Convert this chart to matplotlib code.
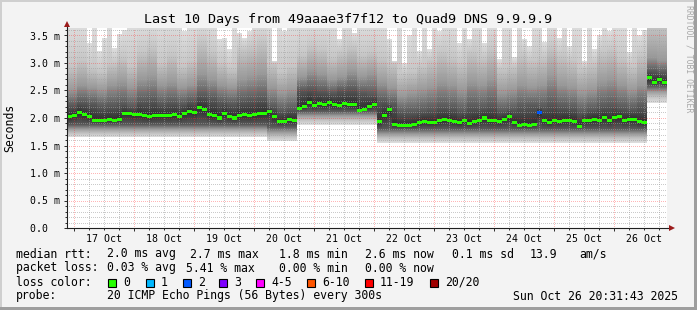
import numpy as np
import pandas as pd
import matplotlib
matplotlib.use("Agg")
import matplotlib.pyplot as plt
import matplotlib.dates as mdates
import matplotlib.ticker as mticker
from matplotlib.patches import Rectangle

plt.rcParams['font.family'] = ['DejaVu Sans Mono']

# median rtt (ms), one value every 2 hours starting Oct 16 21:12
median = [2.02, 2.05, 2.10, 2.06, 2.03, 1.96, 1.96, 1.95, 1.97, 1.96,
          1.98, 2.08, 2.08, 2.06, 2.07, 2.04, 2.02, 2.04, 2.05, 2.05,
          2.04, 2.06, 2.03, 2.08, 2.12, 2.10, 2.19, 2.16, 2.07, 2.05,
          2.00, 2.08, 2.03, 2.00, 2.05, 2.06, 2.05, 2.06, 2.08, 2.09,
          2.12, 2.02, 1.93, 1.94, 1.97, 1.96, 2.18, 2.21, 2.29, 2.22,
          2.27, 2.24, 2.28, 2.24, 2.23, 2.26, 2.24, 2.24, 2.14, 2.16,
          2.21, 2.25, 1.93, 2.05, 2.16, 1.88, 1.86, 1.86, 1.86, 1.88,
          1.92, 1.94, 1.92, 1.92, 1.95, 1.97, 1.96, 1.94, 1.91, 1.95,
          1.90, 1.93, 1.96, 2.00, 1.96, 1.96, 1.94, 1.98, 2.02, 1.92,
          1.87, 1.88, 1.86, 1.89, 2.10, 1.96, 1.92, 1.96, 1.94, 1.96,
          1.96, 1.94, 1.85, 1.95, 1.96, 1.98, 1.96, 2.01, 1.95, 2.01,
          2.02, 1.96, 1.98, 1.98, 1.93, 1.92, 2.73, 2.65, 2.70, 2.64]
# lost pings (of 20) for each median value
loss = [0] * 94 + [2] + [0] * 25

# slowest ping (ms) every 2 hours, anything above the top is clipped
smoke_max = [3.7, 3.7, 3.7, 3.7, 3.37, 3.7, 3.22, 3.46, 3.7, 3.28,
             3.53, 3.60, 3.7, 3.7, 3.7, 3.7, 3.7, 3.7, 3.7, 3.7,
             3.7, 3.7, 3.7, 3.58, 3.7, 3.7, 3.7, 3.7, 3.7, 3.7,
             3.44, 3.46, 3.25, 3.7, 3.55, 3.46, 3.58, 3.7, 3.7, 3.7,
             3.7, 3.04, 3.7, 3.58, 3.7, 3.7, 3.7, 3.7, 3.7, 3.7,
             3.7, 3.7, 3.7, 3.7, 3.44, 3.7, 3.7, 3.55, 3.7, 3.7,
             3.7, 3.7, 3.7, 3.7, 3.44, 3.04, 3.7, 3.00, 3.50, 3.7,
             3.22, 3.7, 3.25, 3.7, 3.58, 3.7, 3.7, 3.7, 3.37, 3.7,
             3.44, 3.7, 3.7, 3.37, 3.7, 3.7, 3.07, 3.7, 3.7, 3.10,
             3.7, 3.44, 3.30, 3.7, 3.7, 3.39, 3.7, 3.7, 3.45, 3.7,
             3.30, 3.7, 3.7, 3.04, 3.7, 3.25, 3.50, 3.7, 3.58, 3.7,
             3.7, 3.7, 3.20, 3.7, 3.50, 3.60, 3.7, 3.7, 3.7, 3.7]

# smoke band edges (ms), one value every 4 hours
smoke_hi1 = [2.95, 3.05, 2.90, 2.85, 3.00, 3.10, 2.95, 3.20, 3.30, 3.00,
             3.15, 2.95, 3.05, 3.40, 3.20, 3.00, 2.90, 3.25, 3.30, 3.40,
             3.00, 2.85, 2.95, 3.15, 3.30, 3.25, 3.10, 3.20, 3.30, 3.15,
             3.20, 3.10, 3.00, 2.80, 2.85, 2.95, 3.05, 3.20, 3.10, 3.00,
             3.20, 3.10, 3.25, 2.90, 2.95, 3.15, 3.05, 3.10, 3.30, 3.15,
             3.05, 2.90, 3.00, 3.20, 3.25, 3.10, 2.95, 3.15, 3.70, 3.70]
smoke_hi2 = [2.50, 2.60, 2.55, 2.50, 2.60, 2.65, 2.55, 2.70, 2.75, 2.60,
             2.65, 2.55, 2.60, 2.80, 2.70, 2.60, 2.55, 2.70, 2.75, 2.80,
             2.55, 2.45, 2.50, 2.75, 2.85, 2.80, 2.70, 2.75, 2.85, 2.75,
             2.80, 2.65, 2.55, 2.40, 2.45, 2.50, 2.55, 2.65, 2.60, 2.50,
             2.65, 2.60, 2.70, 2.45, 2.50, 2.60, 2.55, 2.60, 2.75, 2.60,
             2.55, 2.45, 2.50, 2.65, 2.70, 2.60, 2.50, 2.60, 3.10, 3.05]
smoke_hi3 = [2.22, 2.28, 2.25, 2.20, 2.22, 2.25, 2.20, 2.30, 2.32, 2.25,
             2.28, 2.25, 2.30, 2.40, 2.35, 2.28, 2.25, 2.30, 2.32, 2.35,
             2.20, 2.12, 2.15, 2.50, 2.52, 2.48, 2.45, 2.50, 2.52, 2.45,
             2.42, 2.30, 2.25, 2.10, 2.10, 2.12, 2.15, 2.20, 2.18, 2.12,
             2.20, 2.18, 2.22, 2.12, 2.15, 2.20, 2.22, 2.20, 2.25, 2.20,
             2.18, 2.10, 2.15, 2.20, 2.22, 2.18, 2.15, 2.20, 2.85, 2.82]
smoke_lo3 = [1.88] * 20 + [1.84] * 3 + [2.12] * 8 + [1.80] * 27 + [2.58] * 2
smoke_lo2 = [1.80] * 20 + [1.74] * 3 + [2.04] * 8 + [1.71] * 27 + [2.48] * 2
smoke_lo1 = [1.72] * 20 + [1.66] * 3 + [1.96] * 8 + [1.63] * 27 + [2.38] * 2
smoke_lo0 = [1.65] * 20 + [1.58] * 3 + [1.88] * 8 + [1.55] * 27 + [2.28] * 2

loss_buckets = [(0, '#26ff00', '0'), (1, '#00b8ff', '1'), (2, '#0059ff', '2'),
                (3, '#7e00ff', '3'), (5, '#ff00ff', '4-5'), (10, '#ff5500', '6-10'),
                (19, '#ff0000', '11-19'), (20, '#a00000', '20/20')]

start = pd.Timestamp('2025-10-16 21:12')
end = start + pd.Timedelta(days=10)
t_med = mdates.date2num(pd.date_range(start, periods=len(median), freq='2h').to_pydatetime())
w_med = 2 / 24
ymax = 200 / 55

W, H = 697, 310
fig = plt.figure(figsize=(W / 100, H / 100), dpi=100, facecolor='#f3f3f3')
ax = fig.add_axes([67 / W, (H - 228) / H, 600 / W, 200 / H])
ax.set_facecolor('white')

# smoke: grey level goes from light at the outer pings to dark at the median
levels = [221, 195, 155, 90, 45, 88, 152, 198, 221]
ny = 200
yc = (np.arange(ny) + 0.5) * ymax / ny
img = np.full((ny, len(median)), 255.0)
for k in range(len(median)):
    b = k // 2
    edges = [smoke_lo0[b], smoke_lo1[b], smoke_lo2[b], smoke_lo3[b], median[k],
             smoke_hi3[b], smoke_hi2[b], smoke_hi1[b], smoke_max[k]]
    edges = np.maximum.accumulate(edges)
    inside = (yc >= edges[0]) & (yc <= edges[-1])
    img[inside, k] = np.interp(yc[inside], edges, levels)
x0 = mdates.date2num(start)
x1 = t_med[-1] + w_med
ax.imshow(img, extent=[x0, x1, 0, ymax], origin='lower', aspect='auto', cmap='gray',
          vmin=0, vmax=255, interpolation='nearest', zorder=1)

# median coloured by loss
def loss_color(n):
    for lim, c, _ in loss_buckets:
        if n <= lim:
            return c
    return loss_buckets[-1][1]

mcol = [loss_color(n) for n in loss]
mh = 0.055
ax.bar(t_med, mh, bottom=np.array(median) - mh / 2, width=w_med, align='edge',
       color=mcol, linewidth=0, zorder=4)

ax.set_xlim(x0, mdates.date2num(end))
ax.set_ylim(0, ymax)

# grid
ax.set_axisbelow(False)
dot = (0, (1, 1.5))
ax.yaxis.set_major_locator(mticker.MultipleLocator(0.5))
ax.yaxis.set_minor_locator(mticker.MultipleLocator(0.1))
ax.yaxis.set_major_formatter(mticker.FuncFormatter(
    lambda v, p: '0.0  ' if abs(v) < 1e-9 else '%.1f m' % v))
ax.xaxis.set_major_locator(mdates.DayLocator())
ax.xaxis.set_major_formatter(mticker.NullFormatter())
ax.xaxis.set_minor_locator(mdates.HourLocator(byhour=[6, 12, 18]))
ax.xaxis.set_minor_formatter(mticker.FuncFormatter(
    lambda v, p: mdates.num2date(v).strftime('%d %b') if mdates.num2date(v).hour == 12 else ''))
ax.grid(which='minor', color='#a0a0a0', alpha=0.55, linestyle=dot, linewidth=0.72,
        antialiased=False)
ax.grid(which='major', color='#ff3030', alpha=0.35, linestyle=dot, linewidth=0.72,
        antialiased=False)

ax.tick_params(axis='both', which='both', direction='out', color='#303030', width=0.72,
               labelsize=7.1, labelcolor='black')
ax.tick_params(axis='y', which='major', length=2.2, pad=2.6)
ax.tick_params(axis='y', which='minor', length=1.5)
ax.tick_params(axis='x', which='major', length=2.2)
ax.tick_params(axis='x', which='minor', length=1.5, pad=2.5)

for s in ax.spines.values():
    s.set_visible(False)
ax.plot([0, 0], [0, 1.0225], color='#202020', lw=0.8, transform=ax.transAxes, clip_on=False, zorder=6)
ax.plot([0, 1.0075], [0, 0], color='#202020', lw=0.8, transform=ax.transAxes, clip_on=False, zorder=6)
ax.plot([0], [1.0225], marker='^', ms=4.2, color='#9c1c1c', mew=0,
        transform=ax.transAxes, clip_on=False, zorder=7)
ax.plot([1.0075], [0], marker='>', ms=4.2, color='#9c1c1c', mew=0,
        transform=ax.transAxes, clip_on=False, zorder=7)

def fx(x):
    return x / W

def fy(y):
    return 1 - y / H

fig.text(fx(348), fy(19), 'Last 10 Days from 49aaae3f7f12 to Quad9 DNS 9.9.9.9',
         ha='center', va='center', fontsize=9.6)
fig.text(fx(10), fy(128), 'Seconds', rotation=90, ha='center', va='center', fontsize=8.3)
fig.text(fx(689), fy(5), 'RRDTOOL / TOBI OETIKER', rotation=270, ha='center', va='top',
         fontsize=5.9, color='#a8a8a8')

fs = 8.3
rows = [
    (254, [(16, 'median rtt:'), (107, '2.0 ms avg'), (190, '2.7 ms max'), (279, '1.8 ms min'),
           (365, '2.6 ms now'), (452, '0.1 ms sd'), (530, '13.9'), (579, 'am/s')]),
    (268, [(16, 'packet loss:'), (107, '0.03 % avg'), (186, '5.41 % max'), (279, '0.00 % min'),
           (365, '0.00 % now')]),
    (282, [(16, 'loss color:')]),
    (296, [(16, 'probe:'), (107, '20 ICMP Echo Pings (56 Bytes) every 300s'),
           (513, 'Sun Oct 26 20:31:43 2025')]),
]
for y, items in rows:
    for x, s in items:
        fig.text(fx(x), fy(y), s, ha='left', va='center', fontsize=fs)

box_x = [108, 146, 183, 219, 256, 307, 365, 430]
for bx, (_, c, lab) in zip(box_x, loss_buckets):
    fig.add_artist(Rectangle((fx(bx), fy(286.5)), 8 / W, 8 / H, transform=fig.transFigure,
                             facecolor=c, edgecolor='black', linewidth=0.8))
    fig.text(fx(bx + 15), fy(282), lab, ha='left', va='center', fontsize=fs)

# frame
fig.add_artist(Rectangle((0, 1 - 2 / H), 1, 2 / H, transform=fig.transFigure, color='#cfcfcf', lw=0))
fig.add_artist(Rectangle((0, 0), 2 / W, 1, transform=fig.transFigure, color='#cfcfcf', lw=0))
fig.add_artist(Rectangle((0, 0), 1, 3 / H, transform=fig.transFigure, color='#9e9e9e', lw=0))
fig.add_artist(Rectangle((1 - 3 / W, 0), 3 / W, 1, transform=fig.transFigure, color='#9e9e9e', lw=0))

fig.savefig('out.png', dpi=100, facecolor=fig.get_facecolor())
